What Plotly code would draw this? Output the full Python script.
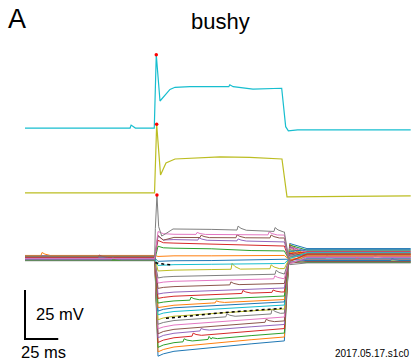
import numpy as np
import plotly.graph_objects as go

# ---------------- data (ms, mV) ----------------
tab10 = ["#1f77b4", "#ff7f0e", "#2ca02c", "#d62728", "#9467bd",
         "#8c564b", "#e377c2", "#7f7f7f", "#bcbd22", "#17becf"]

# knot times of the step family
t_pre = [0.0, 97.5]
t_step = [100.0, 104.0, 112.0, 140.0, 170.0, 195.0]
t_post = [199.0, 212.0, 290.0]

v_base = [-60.2, -59.1, -60.8, -59.6, -60.4, -58.9, -61.0, -59.8, -60.6, -59.3,
          -60.1, -61.2, -59.5, -60.7, -58.8, -60.3, -59.9, -61.4, -59.2, -60.5,
          -60.0, -58.7, -61.1, -59.7, -60.9, -59.4, -60.2, -59.0]
v_peak = [-110.1, -107.9, -105.6, -103.1, -100.7, -98.7, -96.1, -93.8, -91.5, -89.0,
          -87.1, -85.3, -83.0, -80.6, -78.4, -75.5, -72.8, -70.2, -66.6, -63.8,
          -61.7, -59.2, -54.0, -51.0, -48.8, -48.5, -46.5, -48.0]
v_early = [-108.9, -106.7, -104.4, -101.9, -99.5, -97.5, -95.2, -92.9, -90.6, -88.1,
           -86.2, -84.8, -82.5, -80.1, -77.9, -75.0, -72.3, -69.7, -66.4, -63.6,
           -61.5, -59.0, -54.8, -52.2, -50.8, -50.9, -47.6, -48.0]
v_e2 = [-107.6, -105.4, -103.2, -100.7, -98.4, -96.4, -94.2, -91.9, -89.7, -87.3,
        -85.4, -84.1, -81.9, -79.5, -77.4, -74.6, -71.9, -69.4, -66.2, -63.4,
        -61.4, -58.9, -55.0, -52.4, -50.6, -49.5, -47.9, -45.4]
v_mid = [-105.6, -103.5, -101.4, -99.0, -96.7, -94.8, -92.7, -90.5, -88.3, -86.1,
         -84.3, -83.0, -81.0, -78.7, -76.6, -74.0, -71.4, -69.0, -65.9, -63.2,
         -61.3, -58.9, -55.3, -52.8, -51.0, -49.6, -48.0, -45.4]
v_late = [-103.8, -101.7, -99.6, -97.3, -95.1, -93.3, -91.2, -89.2, -87.0, -84.9,
          -83.2, -82.0, -80.1, -77.9, -75.9, -73.4, -70.9, -68.5, -65.6, -63.0,
          -61.1, -58.8, -56.2, -53.4, -51.4, -49.7, -48.1, -45.9]
v_end = [-102.3, -100.3, -98.3, -96.0, -93.9, -92.1, -90.1, -88.1, -86.0, -84.0,
         -82.4, -81.2, -79.4, -77.3, -75.3, -73.0, -70.5, -68.2, -65.4, -62.8,
         -61.0, -58.7, -56.4, -53.9, -51.8, -49.8, -48.3, -46.7]
v_rebound = [-52.6, -53.0, -53.4, -53.8, -54.2, -54.6, -55.0, -55.4, -55.8, -56.2,
             -56.6, -57.0, -57.4, -57.8, -58.2, -58.6, -59.0, -59.4, -59.8, -60.2,
             -60.6, -61.0, -61.4, -61.8, -62.2, -62.6, -63.0, -63.4]
v_post = [-55.2, -58.9, -56.0, -60.1, -56.6, -59.3, -57.1, -61.0, -57.6, -60.4,
          -55.8, -58.2, -61.6, -56.9, -59.7, -57.9, -62.0, -58.5, -60.8, -57.3,
          -61.3, -59.0, -62.3, -58.0, -60.6, -61.8, -59.5, -62.5]

# spiking trace within the family (gray, last step)
gray_spike_t = [98.0, 99.2, 100.5, 102.8, 106.0, 111.3]
gray_spike_v = [-45.0, -27.9, -44.0, -48.8, -47.5, -45.2]

# spontaneous events: trace index, time (ms), amplitude (mV)
ev_idx = [27, 27, 26, 26, 25, 25, 25, 24, 24, 18, 18, 17, 16, 15, 13, 13, 7, 7, 5, 3, 2, 2, 4, 12, 11,
          21, 23, 16, 24, 3, 9, 14, 20]
ev_t = [159.4, 187.2, 128.6, 182.7, 131.6, 158.6, 184.2, 130.0, 159.4, 154.9, 184.2, 188.0, 187.0, 154.0,
        163.0, 185.7, 151.0, 185.0, 180.5, 125.6, 118.8, 137.6, 131.6, 124.0, 143.0,
        12.0, 55.0, 90.0, 65.0, 226.0, 248.0, 262.0, 275.0]
ev_amp = [2.0, 2.0, 1.0, 1.5, 1.2, 1.5, 1.5, 1.2, 1.0, 3.0, 2.0, 2.0, 1.5, 1.5,
          1.5, 1.2, 1.5, 2.5, 1.5, 1.5, 1.5, 1.5, 1.2, 1.5, 1.0,
          1.5, 1.2, 1.0, 1.0, 1.2, 1.0, 1.2, 1.0]

# the two spiking traces shown above the family
cyan_t = [0.0, 79.0, 79.8, 83.0, 97.2, 98.7, 101.5, 105.3, 109.0, 112.8, 124.0, 153.2, 154.0,
          156.5, 171.4, 193.0, 196.0, 198.0, 205.0, 290.0]
cyan_v = [-60.0, -60.0, -58.5, -60.0, -60.0, -22.6, -46.2, -43.2, -40.3, -39.2, -38.9, -38.9, -37.9,
          -38.9, -40.1, -39.7, -59.3, -61.4, -60.9, -60.9]
olive_t = [0.0, 97.4, 99.0, 101.9, 106.0, 112.8, 146.6, 169.0, 193.2, 197.0, 290.0]
olive_v = [-60.0, -60.0, -25.0, -50.8, -44.7, -42.7, -41.6, -41.9, -42.7, -62.0, -61.5]

# exponential fits shown as dotted lines
fit1_t = [98.0, 104.0, 111.0]
fit1_v = [-62.4, -63.1, -63.5]
fit2_t = [106.0, 150.0, 193.0]
fit2_v = [-90.8, -87.8, -85.7]

# scale bar sizes
sb_ms = 25.0
sb_mv = 25.0

# ---------------- style / layout ----------------
W, H = 413, 362
OFFSET_OLIVE = 33.2
OFFSET_CYAN = 66.3
X_RANGE = [-18.797, 291.729]
Y_RANGE = [-113.06, 71.63]
SB_T0, SB_V0 = 0.0, -101.3
FONT = "Liberation Sans, Arial, sans-serif"

fig = go.Figure()


def add_events(t, v, idx):
    t = np.array(t, dtype=float)
    v = np.array(v, dtype=float)
    for i, te, a in zip(ev_idx, ev_t, ev_amp):
        if i != idx:
            continue
        nt = np.array([te, te + 0.8, te + 3.0, te + 7.0])
        nv = np.interp(nt, t, v) + np.array([0.0, a, 0.45 * a, 0.0])
        t = np.concatenate([t, nt])
        v = np.concatenate([v, nv])
        o = np.argsort(t, kind="stable")
        t, v = t[o], v[o]
    return t, v


for i in range(len(v_end)):
    if i == 27:
        tt = t_pre + gray_spike_t + [140.0, 170.0, 195.0] + t_post
        vv = ([v_base[i], v_base[i]] + gray_spike_v +
              [v_mid[i], v_late[i], v_end[i]] +
              [v_rebound[i], v_post[i], v_post[i]])
    else:
        tt = t_pre + t_step + t_post
        vv = ([v_base[i], v_base[i], v_peak[i], v_early[i], v_e2[i], v_mid[i],
               v_late[i], v_end[i], v_rebound[i], v_post[i], v_post[i]])
    tt, vv = add_events(tt, vv, i)
    fig.add_trace(go.Scatter(x=tt, y=vv, mode="lines",
                             line=dict(color=tab10[i % 10], width=1),
                             hoverinfo="skip", showlegend=False))

# fits
for ft, fv in ((fit1_t, fit1_v), (fit2_t, fit2_v)):
    fig.add_trace(go.Scatter(x=ft, y=fv, mode="lines",
                             line=dict(color="black", width=1.5, dash="dot"),
                             hoverinfo="skip", showlegend=False))

# offset spiking traces
fig.add_trace(go.Scatter(x=olive_t, y=np.array(olive_v) + OFFSET_OLIVE, mode="lines",
                         line=dict(color=tab10[8], width=1.2), hoverinfo="skip", showlegend=False))
fig.add_trace(go.Scatter(x=cyan_t, y=np.array(cyan_v) + OFFSET_CYAN, mode="lines",
                         line=dict(color=tab10[9], width=1.2), hoverinfo="skip", showlegend=False))

# spike peak markers
pk_t = [gray_spike_t[1], olive_t[2], cyan_t[5]]
pk_v = [gray_spike_v[1], olive_v[2] + OFFSET_OLIVE, cyan_v[5] + OFFSET_CYAN]
fig.add_trace(go.Scatter(x=pk_t, y=pk_v, mode="markers",
                         marker=dict(color="red", size=3.5, line=dict(width=0)),
                         hoverinfo="skip", showlegend=False))

# scale bar
fig.add_trace(go.Scatter(x=[SB_T0, SB_T0, SB_T0 + sb_ms],
                         y=[SB_V0 + sb_mv, SB_V0, SB_V0], mode="lines",
                         line=dict(color="black", width=2), hoverinfo="skip", showlegend=False))


def ann(text, px, py, size, xanchor="left", yanchor="middle"):
    fig.add_annotation(text=text, x=px / W, y=1 - py / H, xref="paper", yref="paper",
                       showarrow=False, xanchor=xanchor, yanchor=yanchor,
                       font=dict(family=FONT, size=size, color="black"))


ann("A", 6, 19, 27)
ann("bushy", 189, 21, 22)
ann("25 mV", 34, 314, 16.5)
ann("25 ms", 19, 352, 16.5)
ann("2017.05.17.s1c0", 411, 353, 10, xanchor="right")

fig.update_layout(width=W, height=H, autosize=False,
                  margin=dict(l=0, r=0, t=0, b=0, pad=0),
                  paper_bgcolor="white", plot_bgcolor="white",
                  xaxis=dict(visible=False, range=X_RANGE, fixedrange=True),
                  yaxis=dict(visible=False, range=Y_RANGE, fixedrange=True),
                  showlegend=False)

fig.write_html("out.html")
